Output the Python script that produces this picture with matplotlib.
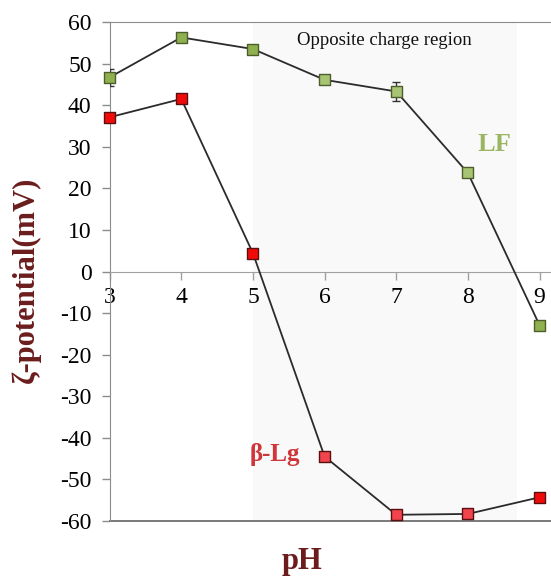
import numpy as np
import matplotlib.pyplot as plt

# ==================== DATA ====================
ph = [3, 4, 5, 6, 7, 8, 9]
lf_zeta = [46.7, 56.3, 53.5, 46.1, 43.3, 23.7, -12.9]
lf_err = [2.1, 0.0, 0.0, 0.0, 2.2, 0.0, 0.0]
blg_zeta = [37.1, 41.5, 4.4, -44.5, -58.5, -58.3, -54.3]
blg_err = [0.0, 0.8, 0.0, 0.0, 0.0, 0.0, 0.0]

opposite_region = (5, 8.68)
y_ticks = list(range(-60, 61, 10))

# per-point marker fills (the middle points look lighter in the original)
lf_fill = ['#8fb04e', '#8fb04e', '#8fb04e', '#a6c472', '#a6c472', '#a6c472', '#8fb04e']
blg_fill = ['#f00a0a', '#f00a0a', '#f00a0a', '#f2444c', '#f2444c', '#f2444c', '#f00a0a']

plt.rcParams['font.family'] = ['Liberation Serif', 'DejaVu Serif']
plt.rcParams['axes.unicode_minus'] = False

fig = plt.figure(figsize=(5.51, 5.78), dpi=100)
ax = fig.add_axes([0.199, 0.0986, 0.801, 0.8633])

ax.set_xlim(3, 9.16)
ax.set_ylim(-60, 60)

# shaded region
ax.axvspan(*opposite_region, color='#f9f9f9', zorder=0, lw=0)

# ==================== SERIES ====================
line_kw = dict(color='#2b2b2b', lw=1.3, zorder=3)
ax.errorbar(ph, lf_zeta, yerr=lf_err, ecolor='#333333', elinewidth=1.0,
            capsize=3, capthick=1.0, zorder=3, fmt='none')
ax.errorbar(ph, blg_zeta, yerr=blg_err, ecolor='#333333', elinewidth=1.0,
            capsize=3, capthick=1.0, zorder=3, fmt='none')
ax.plot(ph, lf_zeta, **line_kw)
ax.plot(ph, blg_zeta, **line_kw)
ax.scatter(ph, lf_zeta, marker='s', s=62, c=lf_fill, edgecolors='#4d5e2c',
           linewidths=1.0, zorder=4, clip_on=False)
ax.scatter(ph, blg_zeta, marker='s', s=62, c=blg_fill, edgecolors='#5a1010',
           linewidths=1.0, zorder=4, clip_on=False)

# ==================== AXES STYLE ====================
ax.spines['right'].set_visible(False)
ax.spines['top'].set_color('#8c8c8c')
ax.spines['left'].set_color('#8c8c8c')
ax.spines['bottom'].set_position(('data', 0))
ax.spines['bottom'].set_color('#a0a0a0')
ax.axhline(-60, color='#7a7a7a', lw=1.4, clip_on=False, zorder=2)

ax.set_xticks(ph)
ax.set_yticks(y_ticks)
ax.tick_params(axis='x', direction='out', length=6, width=1, color='#a0a0a0',
               labelsize=17, pad=5)
ax.tick_params(axis='y', direction='out', length=6, width=1, color='#8c8c8c',
               labelsize=17, pad=7)

# ==================== ANNOTATIONS ====================
ax.text(6.84, 55.6, 'Opposite charge region', fontsize=13.5, ha='center',
        va='center', color='#111111')
ax.text(8.37, 30.5, 'LF', fontsize=19, fontweight='bold', ha='center',
        va='center', color='#9bb563')
ax.text(5.31, -44.1, 'β-Lg', fontsize=18, fontweight='bold', ha='center',
        va='center', color='#d0353a')

fig.text(26 / 551, 1 - 280 / 578, 'ζ-potential(mV)', rotation=90, fontsize=22,
         fontweight='bold', color='#6b1d1d', ha='center', va='center')
fig.text(302 / 551, 1 - 561 / 578, 'pH', fontsize=22, fontweight='bold',
         color='#6b1d1d', ha='center', va='center')

fig.savefig('out.png', dpi=100)
